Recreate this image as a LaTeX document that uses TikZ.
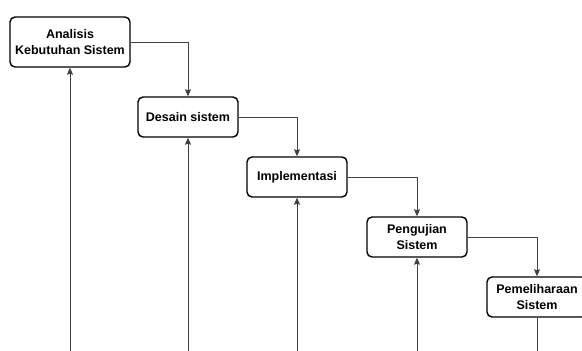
\documentclass[tikz,border=0pt]{standalone}
\usepackage{fontspec}
\setmainfont{Liberation Sans}
\usetikzlibrary{arrows.meta}

\begin{document}
\begin{tikzpicture}[x=1pt,y=-1pt,>={Stealth[length=7pt,width=6pt,inset=1pt]},
  font=\fontsize{12.5}{15.5}\selectfont\bfseries,
  phase/.style={draw,line width=1.4pt,rounded corners=5pt,align=center,
    minimum width=100pt,minimum height=40pt,inner sep=0pt},
  flow/.style={black!75,line width=0.9pt}]
  \clip (0,0) rectangle (582,351);
  % the five phases, stepping down to the right
  \node[phase,minimum width=120pt,minimum height=50pt] (analisis) at (70,42) {Analisis\\Kebutuhan Sistem};
  \node[phase] (desain) at (188,117) {Desain sistem};
  \node[phase] (implementasi) at (297,177) {Implementasi};
  \node[phase] (pengujian) at (417,237) {Pengujian\\Sistem};
  \node[phase] (pemeliharaan) at (537,297) {Pemeliharaan\\Sistem};
  % lower ends of the return lines
  \coordinate (retA) at (70,351);
  \coordinate (retD) at (188,351);
  \coordinate (retI) at (297,351);
  \coordinate (retP) at (417,351);
  \coordinate (retM) at (537,351);
  % forward steps
  \draw[flow,->] (analisis.east) -| (desain.north);
  \draw[flow,->] (desain.east) -| (implementasi.north);
  \draw[flow,->] (implementasi.east) -| (pengujian.north);
  \draw[flow,->] (pengujian.east) -| (pemeliharaan.north);
  % feedback lines from below
  \draw[flow,->] (retA) -- (analisis.south);
  \draw[flow,->] (retD) -- (desain.south);
  \draw[flow,->] (retI) -- (implementasi.south);
  \draw[flow,->] (retP) -- (pengujian.south);
  \draw[flow] (pemeliharaan.south) -- (retM);
\end{tikzpicture}
\end{document}
